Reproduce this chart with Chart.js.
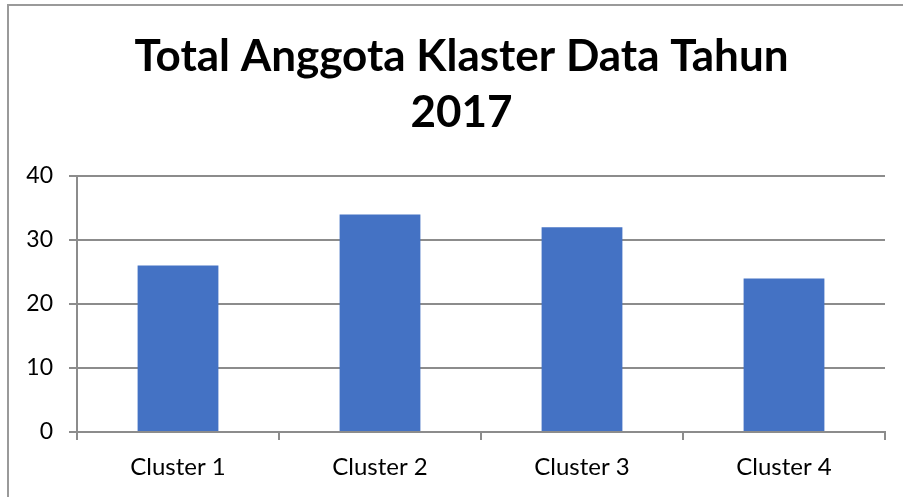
<!DOCTYPE html>
<html>
<head>
<meta charset="utf-8">
<script src="https://cdn.jsdelivr.net/npm/chart.js@4"></script>
<style>
html,body{margin:0;padding:0;background:#fff;overflow:hidden;}
canvas{display:block;}
</style>
</head>
<body>
<canvas id="c" width="941" height="497"></canvas>
<script>
const categories = ["Cluster 1", "Cluster 2", "Cluster 3", "Cluster 4"];
const values = [26, 34, 32, 24];
const titleLines = ["Total Anggota Klaster Data Tahun", "2017"];
const yMin = 0, yMax = 40, yStep = 10;

const GRID = "#8c8c8c";

const frame = {
  id: "frame",
  beforeDraw(chart) {
    const ctx = chart.ctx;
    ctx.save();
    ctx.fillStyle = "#ffffff";
    ctx.fillRect(0, 0, chart.width, chart.height);
    ctx.fillStyle = "#9a9a9a";
    ctx.fillRect(7, 4, chart.width, 2);
    ctx.fillRect(7, 4, 2, chart.height);
    ctx.restore();
  }
};

new Chart(document.getElementById("c"), {
  type: "bar",
  data: {
    labels: categories,
    datasets: [{
      data: values,
      backgroundColor: "#4472C4",
      borderWidth: 0,
      barPercentage: 0.4,
      categoryPercentage: 1.0
    }]
  },
  options: {
    responsive: false,
    animation: false,
    layout: { padding: { left: 0, right: 18, top: 0, bottom: 0 } },
    plugins: {
      legend: { display: false },
      tooltip: { enabled: false },
      title: {
        display: true,
        text: titleLines,
        color: "#000000",
        font: { family: "Lato", weight: "bold", size: 44, lineHeight: 56/44 },
        padding: { top: 29, bottom: 35 }
      }
    },
    scales: {
      x: {
        offset: true,
        grid: { display: true, drawOnChartArea: false, drawTicks: true, tickLength: 8, color: GRID, lineWidth: 2, offset: true },
        border: { display: true, color: GRID, width: 2 },
        ticks: { color: "#000000", font: { family: "Lato", size: 24 }, padding: 13, maxRotation: 0 },
        afterFit(s) { s.height = 65; }
      },
      y: {
        min: yMin, max: yMax,
        grid: { color: GRID, lineWidth: 2, tickLength: 8, drawTicks: true },
        border: { display: true, color: GRID, width: 2 },
        ticks: { stepSize: yStep, color: "#000000", font: { family: "Lato", size: 23 }, padding: 16 },
        afterFit(s) { s.width = 77; }
      },
      yPad: {
        position: "right",
        display: true,
        min: 0, max: 1,
        grid: { display: false, drawOnChartArea: false, drawTicks: false },
        border: { display: false },
        ticks: { display: false },
        afterFit(s) { s.width = 38; }
      }
    }
  },
  plugins: [frame]
});
</script>
</body>
</html>
